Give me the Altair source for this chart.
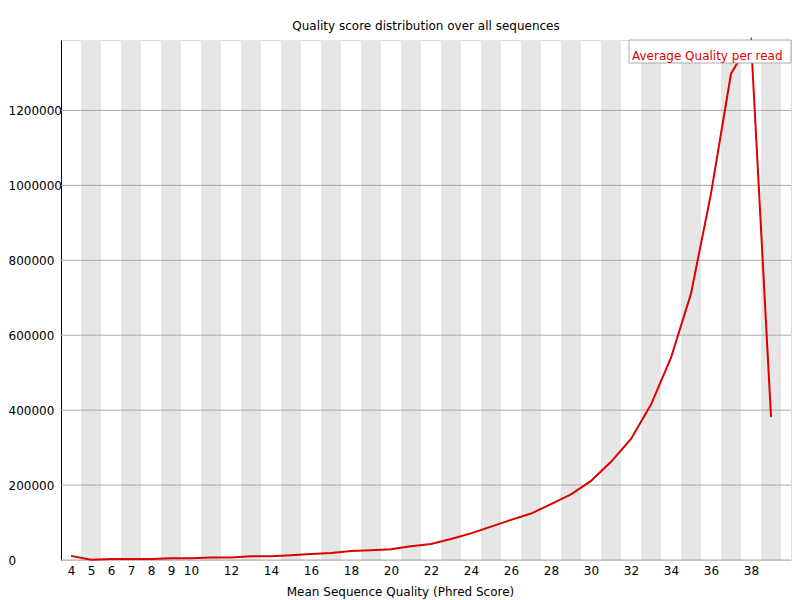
import altair as alt
import pandas as pd

# Data
quality = list(range(4, 40))
counts = [11000, 1000, 2500, 2500, 2500, 5000, 5000, 7000, 7000, 10000,
          10000, 13000, 16000, 19000, 24000, 26000, 29000, 37000, 43000, 56000,
          71000, 89000, 107000, 124000, 149000, 175000, 211000, 262000, 323000, 415000,
          540000, 711000, 978000, 1298000, 1388000, 382000]
x_ticks = [4, 5, 6, 7, 8, 9, 10, 12, 14, 16, 18, 20, 22, 24, 26, 28, 30, 32, 34, 36, 38]
y_ticks = [0, 200000, 400000, 600000, 800000, 1000000, 1200000]
band_centers = [q for q in quality if q % 2 == 1]

title_text = "Quality score distribution over all sequences"
x_title = "Mean Sequence Quality (Phred Score)"
legend_text = "Average Quality per read"

FONT = "DejaVu Sans"
W, H = 730, 520

line_df = pd.DataFrame({"q": quality, "n": counts})
band_df = pd.DataFrame({"lo": [c - 0.5 for c in band_centers], "hi": [c + 0.5 for c in band_centers]})
grid_df = pd.DataFrame({"v": y_ticks})
one = pd.DataFrame({"a": [0]})

xscale = alt.Scale(domain=[3.5, 40], nice=False, zero=False)
yscale = alt.Scale(domain=[0, 1388000], nice=False, zero=True)

x_axis = alt.Axis(values=x_ticks, title=x_title, grid=False, domain=False, ticks=False, tickSize=0,
                  labelPadding=5, labelFontSize=12, labelFont=FONT, labelColor="black",
                  labelFlush=False, labelOverlap=False,
                  titleFont=FONT, titleFontSize=12, titleFontWeight="normal", titleColor="black",
                  titleX=339, titleY=31, titleBaseline="middle", titleAnchor="middle", titleAlign="center")
y_axis = alt.Axis(values=y_ticks, format="d", title=None, grid=False, domain=True, domainColor="black",
                  domainWidth=1, ticks=False, tickSize=0, labelAlign="left", labelPadding=53,
                  labelBaseline="middle", labelFontSize=12, labelFont=FONT, labelColor="black",
                  labelFlush=False, labelOverlap=False)

bands = alt.Chart(band_df).mark_rect(color="#e6e6e6").encode(
    x=alt.X("lo:Q", scale=xscale, axis=x_axis),
    x2="hi:Q",
    y=alt.value(0),
    y2=alt.value(H),
)

grid = alt.Chart(grid_df).mark_rule(color="#aaaaaa", strokeWidth=1).encode(
    y=alt.Y("v:Q", scale=yscale, axis=y_axis),
    x=alt.value(0),
    x2=alt.value(W),
)

line = alt.Chart(line_df).mark_line(color="#dc0000", strokeWidth=2).encode(
    x=alt.X("q:Q", scale=xscale, axis=x_axis),
    y=alt.Y("n:Q", scale=yscale, axis=y_axis),
)

legend_box = alt.Chart(one).mark_rect(fill="white", stroke="#aaaaaa", strokeWidth=1).encode(
    x=alt.value(568), x2=alt.value(730), y=alt.value(0), y2=alt.value(23)
)
legend_label = alt.Chart(one).mark_text(text=legend_text, color="#dc0000", font=FONT, fontSize=12,
                                        align="left", baseline="middle").encode(
    x=alt.value(571), y=alt.value(16)
)
title = alt.Chart(one).mark_text(text=title_text, color="black", font=FONT, fontSize=12,
                                 align="center", baseline="middle").encode(
    x=alt.value(365), y=alt.value(-14)
)

chart = alt.layer(bands, grid, line, legend_box, legend_label, title).properties(
    width=W, height=H,
    autosize=alt.AutoSizeParams(type="none"),
    padding={"left": 53, "top": 32, "right": 1, "bottom": 40},
).configure_view(stroke=None).configure_axis(labelOverlap=False).configure(background="white")

chart.save("out.html", embed_options={"renderer": "svg", "actions": False})
